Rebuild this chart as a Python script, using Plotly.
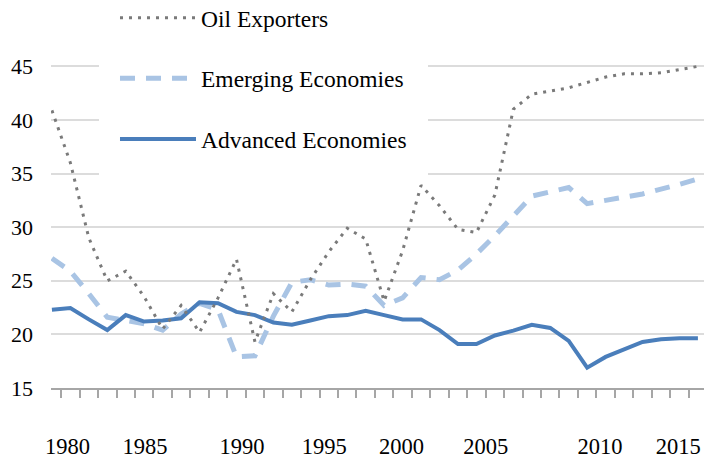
import plotly.graph_objects as go

years = list(range(1980, 2016))

oil_exporters = [40.9, 36.0, 29.0, 25.0, 25.9, 23.5, 20.5, 22.7, 20.2, 23.4,
                 27.0, 19.3, 23.8, 22.1, 25.1, 27.7, 29.9, 28.9, 23.1, 27.8,
                 33.9, 32.0, 29.8, 29.5, 33.0, 41.0, 42.4, 42.7, 43.0, 43.5,
                 44.0, 44.3, 44.3, 44.4, 44.7, 45.0]

emerging = [27.1, 25.9, 23.8, 21.6, 21.3, 21.0, 20.4, 21.9, 22.9, 22.3,
            17.9, 18.0, 21.7, 24.85, 25.1, 24.6, 24.7, 24.5, 22.7, 23.4,
            25.3, 25.1, 26.0, 27.5, 29.2, 31.0, 32.9, 33.3, 33.7, 32.2,
            32.45, 32.8, 33.1, 33.5, 34.0, 34.5]

advanced = [22.3, 22.45, 21.4, 20.4, 21.8, 21.2, 21.3, 21.5, 23.0, 22.9,
            22.1, 21.8, 21.1, 20.9, 21.3, 21.7, 21.8, 22.2, 21.8, 21.4,
            21.4, 20.4, 19.1, 19.1, 19.9, 20.35, 20.9, 20.6, 19.4, 16.9,
            17.9, 18.55, 19.3, 19.55, 19.65, 19.65]

x_tick_labels = ["1980", "1985", "1990", "1995", "2000", "2005", "2010", "2015"]
y_tick_values = [15, 20, 25, 30, 35, 40, 45]

# label placement along the axis (styling, mirrors the reference layout)
x_label_pos = [1980.84, 1985.04, 1990.30, 1994.76, 1998.94, 2003.50, 2009.70, 2013.94]

SERIF = "Liberation Serif"

fig = go.Figure()
fig.add_trace(go.Scatter(
    x=years, y=emerging, mode="lines", name="Emerging Economies",
    line=dict(color="#a9c4e4", width=5, dash="15px,11px"),
    legendgroup="b", legendrank=2))
fig.add_trace(go.Scatter(
    x=years, y=advanced, mode="lines", name="Advanced Economies",
    line=dict(color="#4a7ebb", width=4),
    legendgroup="c", legendrank=3))
fig.add_trace(go.Scatter(
    x=years, y=oil_exporters, mode="lines", name="Oil Exporters",
    line=dict(color="#7a7a7a", width=3, dash="3px,6px"),
    legendgroup="a", legendrank=1))

fig.update_layout(
    width=704, height=458,
    margin=dict(l=51, r=0, t=61, b=70, autoexpand=False),
    paper_bgcolor="white", plot_bgcolor="white",
    font=dict(family=SERIF, color="black"),
    legend=dict(
        x=0.0735, y=1.2477, xanchor="left", yanchor="top",
        bgcolor="white", bordercolor="white", borderwidth=16,
        font=dict(family=SERIF, size=23.5, color="black"),
        traceorder="grouped", tracegroupgap=27, itemwidth=76,
    ),
    xaxis=dict(
        range=[1979.95, 2015.33],
        tickmode="array", tickvals=x_label_pos, ticktext=x_tick_labels,
        ticks="", showgrid=False, zeroline=False,
        showline=True, linecolor="#a6a6a6", linewidth=2,
        tickfont=dict(family=SERIF, size=22.5, color="black"),
        ticklabelstandoff=37,
        minor=dict(tick0=1980.5, dtick=1, ticks="outside", ticklen=8,
                   tickcolor="#a6a6a6", tickwidth=1.5, showgrid=False),
    ),
    yaxis=dict(
        range=[15, 45.5],
        tickmode="array", tickvals=y_tick_values,
        ticks="", showgrid=True, gridcolor="#dcdcdc", gridwidth=2,
        zeroline=False, showline=False,
        tickfont=dict(family=SERIF, size=22, color="black"),
        ticklabelstandoff=17,
    ),
)

fig.write_html("out.html",
               config={"displayModeBar": False},
               post_script="document.body.style.margin='0';")
